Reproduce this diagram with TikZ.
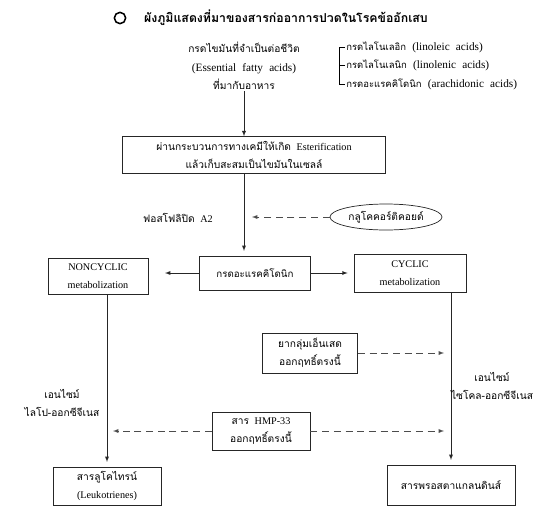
\documentclass[tikz,border=0pt]{standalone}
\usepackage{fontspec}
\setmainfont{Liberation Serif}
\newfontfamily\thaifont[Script=Thai]{Loma}
\newcommand{\wsp}{\hspace{0.55em}}
\usetikzlibrary{shapes.geometric}
\begin{document}
\begin{tikzpicture}[x=0.03cm, y=-0.03cm, >=latex,
          font=\fontsize{8.7}{15}\selectfont,
          box/.style={draw=black!85, line width=0.6pt, align=center, inner sep=2pt},
          lbl/.style={align=center, inner sep=1pt},
          listlbl/.style={anchor=west, inner sep=1pt, font=\fontsize{9.6}{15}\selectfont},
          flow/.style={->, line width=0.6pt, black!85},
          dasharrow/.style={->, line width=0.6pt, black!70, dash pattern=on 6pt off 4pt}]
        \useasboundingbox (0,0) rectangle (547,522);
        % title
        \node[circle, draw, line width=1.3pt, inner sep=0pt, minimum size=0.34cm] (bullet) at (120,18) {};
        \node[anchor=west, font=\fontsize{10.5}{14}\selectfont\bfseries] (title) at (140,18) {\thaifont ผังภูมิแสดงที่มาของสารก่ออาการปวดในโรคข้ออักเสบ};
        % essential fatty acids
        \node[lbl, font=\fontsize{9.6}{15.8}\selectfont] (efa) at (244,66) {{\thaifont\fontsize{8.7}{15.8}\selectfont กรดไขมันที่จำเป็นต่อชีวิต}\\(Essential\wsp fatty\wsp acids)\\{\thaifont\fontsize{8.7}{15.8}\selectfont ที่มากับอาหาร}};
        \node[listlbl] (la) at (345,47) {{\thaifont\fontsize{8.1}{15}\selectfont กรดไลโนเลอิก}\wsp(linoleic\wsp acids)};
        \node[listlbl] (lna) at (345,65) {{\thaifont\fontsize{8.1}{15}\selectfont กรดไลโนเลนิก}\wsp(linolenic\wsp acids)};
        \node[listlbl] (aa) at (345,84) {{\thaifont\fontsize{8.1}{15}\selectfont กรดอะแรคคิโดนิก}\wsp(arachidonic\wsp acids)};
        \draw[line width=0.6pt] (la.west) -- ++(-6,0) |- (aa.west);
        \draw[line width=0.6pt] (lna.west) -- ++(-6,0);
        % esterification
        \node[box, minimum width=7.9cm, minimum height=1.1cm] (ester) at (254,155) {{\thaifont ผ่านกระบวนการทางเคมีให้เกิด}\wsp Esterification\\{\thaifont แล้วเก็บสะสมเป็นไขมันในเซลล์}};
        \draw[flow] (efa.south) -- (efa.south |- ester.north);
        % arachidonic acid
        \node[box, minimum width=3.33cm, minimum height=1.02cm] (ara) at (255,273) {\thaifont\fontsize{8.3}{15}\selectfont กรดอะแรคคิโดนิก};
        \draw[flow, shorten >=4pt] (efa.south |- ester.south) -- (efa.south |- ara.north);
        \node[lbl] (pla) at (178,218) {{\thaifont ฟอสโฟลิปิด}\wsp A2};
        \node[ellipse, draw=black!85, line width=0.6pt, minimum width=3.36cm, minimum height=0.78cm, inner sep=0pt] (gluco) at (386,217) {\thaifont กลูโคคอร์ติคอยด์};
        \coordinate (glutip) at (252,217);
        \draw[dasharrow] (gluco.west) -- (glutip);
        % metabolization
        \node[box, minimum width=3cm, minimum height=1.08cm] (noncyc) at (98,276) {NONCYCLIC\\metabolization};
        \node[box, minimum width=3.36cm, minimum height=1.14cm] (cyc) at (410,273) {CYCLIC\\metabolization};
        \draw[flow, shorten >=0.5cm] (ara.west) -- (noncyc.east |- ara.west);
        \draw[flow, shorten >=0.18cm] (ara.east) -- (cyc.west |- ara.east);
        % products
        \node[box, minimum width=3.24cm, minimum height=1.14cm] (lt) at (107,486) {{\thaifont สารลูโคไทรน์}\\(Leukotrienes)};
        \node[box, minimum width=3.84cm, minimum height=1.2cm] (pg) at (451,485) {\thaifont สารพรอสตาแกลนดินส์};
        \draw[flow, shorten >=4pt] (lt.north |- noncyc.south) -- (lt.north);
        \draw[flow, shorten >=4pt] (pg.north |- cyc.south) -- (pg.north);
        \node[lbl] (lox) at (62,403) {{\thaifont เอนไซม์}\\{\thaifont ไลโป-ออกซีจีเนส}};
        \node[lbl] (cox) at (492,386) {{\thaifont เอนไซม์}\\{\thaifont ไซโคล-ออกซีจีเนส}};
        % inhibitors
        \node[box, minimum width=2.85cm, minimum height=1.2cm] (nsaid) at (310,353) {{\thaifont ยากลุ่มเอ็นเสด}\\{\thaifont ออกฤทธิ์ตรงนี้}};
        \coordinate (nsaidtip) at (444,353);
        \draw[dasharrow] (nsaid.east) -- (nsaidtip);
        \node[box, minimum width=2.94cm, minimum height=1.14cm] (hmp) at (261,431) {{\thaifont สาร}\wsp HMP-33\\{\thaifont ออกฤทธิ์ตรงนี้}};
        \coordinate (hmpleft) at (113,431);
        \coordinate (hmpright) at (444,431);
        \draw[dasharrow] (hmp.west) -- (hmpleft);
        \draw[dasharrow] (hmp.east) -- (hmpright);
\end{tikzpicture}
\end{document}
